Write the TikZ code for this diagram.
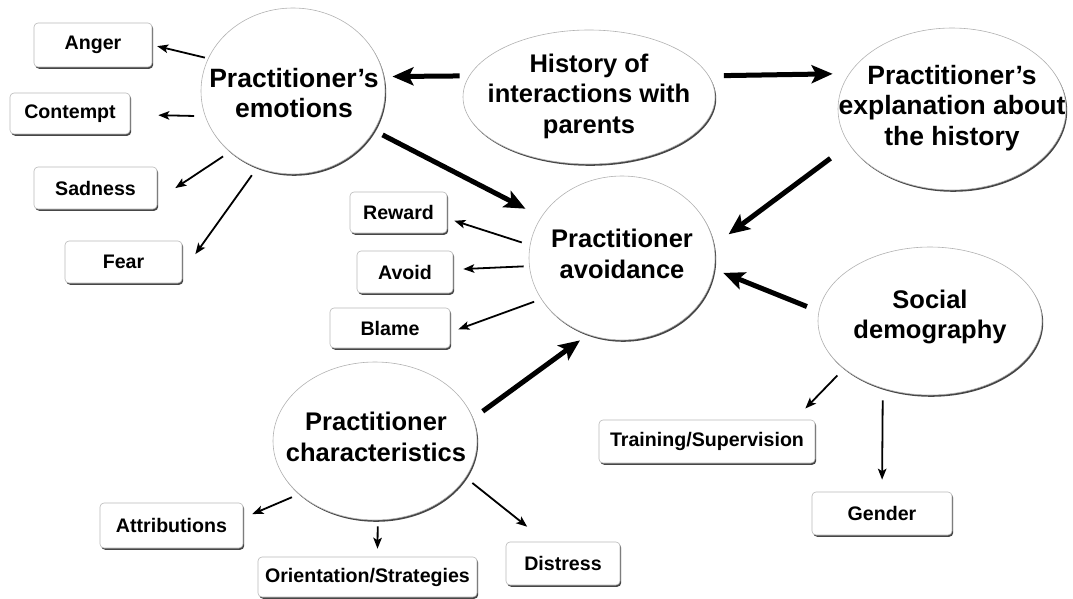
\documentclass[tikz,border=0pt]{standalone}
\usepackage{fontspec}
\setmainfont{Liberation Sans}
\usetikzlibrary{shapes.geometric,shadows,arrows.meta}
\begin{document}
\begin{tikzpicture}[x=1pt,y=-1pt,
  shade/.style={drop shadow={shadow xshift=1.2pt,shadow yshift=-1.8pt,fill=black!85,opacity=0.85}},
  bubble/.style={ellipse,draw=gray!60,line width=0.6pt,fill=white,inner sep=0pt,shade},
  bubtext/.style={align=center,inner sep=0pt,font=\fontsize{25.5}{30.5}\selectfont\bfseries},
  box/.style={rectangle,rounded corners=4pt,draw=gray!55,line width=0.6pt,fill=white,inner sep=0pt,
    font=\fontsize{19.6}{23}\selectfont\bfseries,shade},
  bigarr/.style={line width=5pt,-{Stealth[length=21pt,width=18pt,inset=4.5pt]}},
  smallarr/.style={line width=1.8pt,-{Stealth[length=11pt,width=8.5pt,inset=2.5pt]}}]
\useasboundingbox (0,0) rectangle (1073,599);

% ellipses
\node[bubble,minimum width=184pt,minimum height=166pt] (emo) at (293,91) {};
\node[bubtext,font=\fontsize{26.5}{30.5}\selectfont\bfseries] (emoT) at (294,93) {Practitioner's\\emotions};
\node[bubble,minimum width=252pt,minimum height=134pt] (hist) at (589,97) {};
\node[bubtext] (histT) at (589,96) {History of\\interactions with\\parents};
\node[bubble,minimum width=228pt,minimum height=162pt] (exp) at (952,109) {};
\node[bubtext,font=\fontsize{26.5}{30.5}\selectfont\bfseries] (expT) at (952,108) {Practitioner's\\explanation about\\the history};
\node[bubble,minimum width=186pt,minimum height=164pt] (avo) at (622,258) {};
\node[bubtext] (avoT) at (622,254) {Practitioner\\avoidance};
\node[bubble,minimum width=224pt,minimum height=148pt] (soc) at (930,321) {};
\node[bubtext] (socT) at (930,317) {Social\\demography};
\node[bubble,minimum width=204pt,minimum height=158pt] (char) at (375,441) {};
\node[bubtext] (charT) at (376,437) {Practitioner\\characteristics};

% boxes
\node[box,minimum width=118pt,minimum height=44pt] (anger) at (93,45) {Anger};
\node[box,minimum width=120pt,minimum height=41pt] (contempt) at (70,113.5) {Contempt};
\node[box,minimum width=123pt,minimum height=42pt] (sadness) at (95.5,188) {Sadness};
\node[box,minimum width=117pt,minimum height=42pt] (fear) at (123.5,262) {Fear};
\node[box,minimum width=97pt,minimum height=41pt] (reward) at (398.5,212.5) {Reward};
\node[box,minimum width=96pt,minimum height=42pt] (avoid) at (405,272) {Avoid};
\node[box,minimum width=120pt,minimum height=40pt] (blame) at (390,328) {Blame};
\node[box,minimum width=143pt,minimum height=45pt] (attr) at (171.5,525.5) {Attributions};
\node[box,minimum width=219pt,minimum height=40pt] (orient) at (367.5,577) {Orientation/Strategies};
\node[box,minimum width=114pt,minimum height=43pt] (distress) at (563,563.5) {Distress};
\node[box,minimum width=216pt,minimum height=43pt] (train) at (707,441.5) {Training/Supervision};
\node[box,minimum width=140pt,minimum height=43pt] (gender) at (882,513.5) {Gender};

% thick arrows
\draw[bigarr,shorten <=9.4pt,shorten >=8.5pt] (hist.170) -- (emo.9.4);
\draw[bigarr,shorten <=15pt,shorten >=16.5pt] (hist.10.5) -- (exp.161.8);
\draw[bigarr,shorten <=9.4pt,shorten >=17.7pt] (emo.-26.3) -- (avo.153.9);
\draw[bigarr,shorten <=23.3pt,shorten >=18pt] (exp.-161.7) -- (avo.8.9);
\draw[bigarr,shorten <=12.7pt,shorten >=9.6pt] (soc.175.3) -- (avo.-7.1);
\draw[bigarr,shorten <=12pt,shorten >=9.8pt] (char.13.9) -- (avo.-114);

% thin arrows
\draw[smallarr,shorten <=3.3pt,shorten >=5pt] (emo.159.1) -- (anger.east);
\draw[smallarr,shorten <=10.9pt,shorten >=28pt] (emo.-164.8) -- (contempt.-1.4);
\draw[smallarr,shorten <=8.3pt,shorten >=21.6pt] (emo.-136.3) -- (sadness.-11);
\draw[smallarr,shorten <=9.2pt,shorten >=22.4pt] (emo.-115) -- (fear.-10.9);
\draw[smallarr,shorten <=8.5pt,shorten >=7.4pt] (avo.172.3) -- (reward.-7.3);
\draw[smallarr,shorten <=5.5pt,shorten >=10pt] (avo.185.4) -- (avoid.3.2);
\draw[smallarr,shorten <=7.5pt,shorten >=8.6pt] (avo.-153.5) -- (blame.-4.8);
\draw[smallarr,shorten <=7.8pt,shorten >=9.8pt] (char.-145.9) -- (attr.6.8);
\draw[smallarr,shorten <=6pt,shorten >=8pt] (char.-88.55) -- (orient.64.6);
\draw[smallarr,shorten <=8.5pt,shorten >=24pt] (char.-22.1) -- (distress.128.8);
\draw[smallarr,shorten <=9.5pt,shorten >=15.6pt] (soc.-151.3) -- (train.14.2);
\draw[smallarr,shorten <=12pt,shorten >=12pt] (soc.-125.7) -- (gender.north);
\end{tikzpicture}
\end{document}
